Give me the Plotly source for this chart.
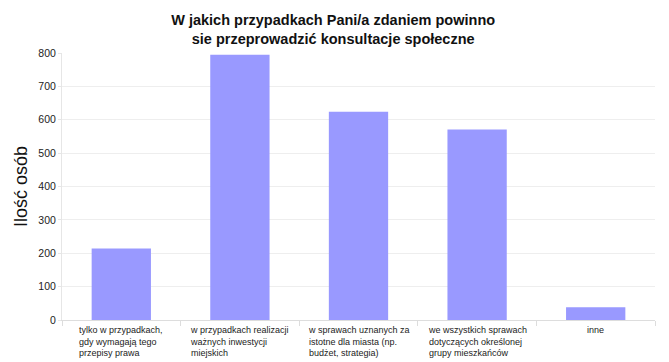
import plotly.graph_objects as go

categories = [
    "tylko w przypadkach,<br>gdy wymagają tego<br>przepisy prawa",
    "w przypadkach realizacji<br>ważnych inwestycji<br>miejskich",
    "w sprawach uznanych za<br>istotne dla miasta (np.<br>budżet, strategia)",
    "we wszystkich sprawach<br>dotyczących określonej<br>grupy mieszkańców",
    "inne",
]
values = [214, 795, 624, 571, 38]
y_ticks = [0, 100, 200, 300, 400, 500, 600, 700, 800]

keys = [f"c{i}" for i in range(len(categories))]
FONT = "Liberation Sans, Arial, sans-serif"

fig = go.Figure()
fig.add_trace(go.Bar(
    x=keys, y=values, width=0.5,
    marker=dict(color="#9999ff", line=dict(width=0)),
    hoverinfo="y",
))

annotations = []
for k, lab in zip(keys, categories):
    annotations.append(dict(
        x=k, xref="x", y=0, yref="paper", yanchor="top", xanchor="center",
        yshift=-3, text=lab, align="left", showarrow=False,
        font=dict(family=FONT, size=9, color="#222222"),
    ))

fig.update_layout(
    width=669, height=362,
    margin=dict(l=62, r=14, t=53, b=42),
    paper_bgcolor="white", plot_bgcolor="white",
    font=dict(family=FONT, color="#222222"),
    title=dict(
        text="<b>W jakich przypadkach Pani/a zdaniem powinno<br>sie przeprowadzić konsultacje społeczne</b>",
        x=0.498, xref="container", xanchor="center",
        y=0.93, yref="container", yanchor="top",
        font=dict(family=FONT, size=14.5, color="#111111"),
    ),
    showlegend=False,
    bargap=0.5,
    annotations=annotations,
)
fig.update_xaxes(
    type="category", showticklabels=False,
    ticks="outside", tickson="boundaries", ticklen=5, tickcolor="#dddddd",
    showline=True, linecolor="#dddddd", linewidth=1,
    showgrid=False, zeroline=False,
)
fig.update_yaxes(
    range=[0, 800], tickvals=y_ticks,
    ticks="outside", ticklen=3, tickcolor="#e6e6e6",
    showline=True, linecolor="#e6e6e6", linewidth=1,
    showgrid=True, gridcolor="#eeeeee", gridwidth=1,
    zeroline=False,
    tickfont=dict(family=FONT, size=10.5, color="#222222"),
    title=dict(text="Ilość osób", font=dict(family=FONT, size=18, color="#111111"), standoff=6),
)

fig.write_html(
    "out.html",
    config={"displayModeBar": False},
    post_script="document.body.style.margin='0';document.body.style.overflow='hidden';",
)
